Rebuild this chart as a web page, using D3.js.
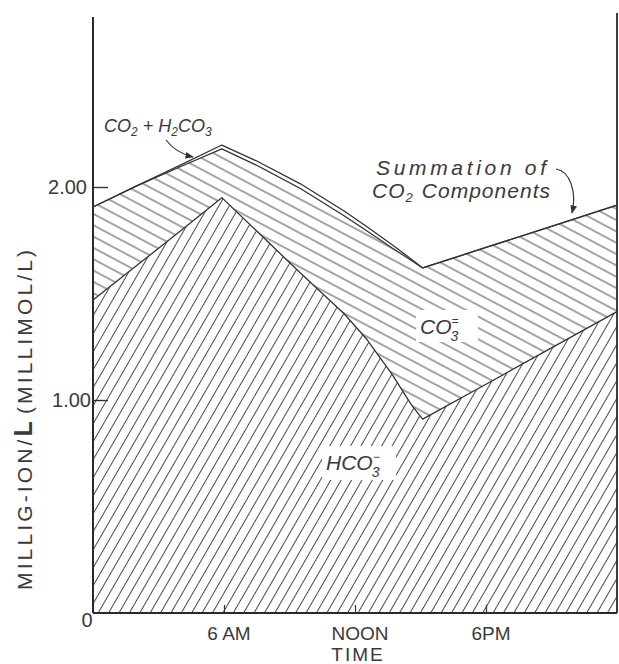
<!DOCTYPE html>
<html>
<head>
<meta charset="utf-8">
<script src="https://cdn.jsdelivr.net/npm/d3@7"></script>
<style>
  body { margin: 0; background: #fff; }
  text { font-family: "Liberation Sans", Arial, sans-serif; fill: #3a3a3a; }
  .hand { font-style: italic; }
</style>
</head>
<body>
<svg id="chart" width="619" height="664"></svg>
<script>
// Diurnal CO2 components (milli-ion / L), sampled over a 24 h day
const hours       = [0, 2, 4, 5.9, 7.5, 9.5, 11.5, 12.5, 13.7, 14.6, 15.1, 18, 21, 24];
const bicarbonate = [1.47, 1.631, 1.793, 1.95, 1.793, 1.596, 1.405, 1.29, 1.12, 0.975, 0.91, 1.074, 1.245, 1.415];
const carbonate   = [0.436, 0.374, 0.302, 0.229, 0.309, 0.397, 0.46, 0.507, 0.594, 0.679, 0.71, 0.642, 0.57, 0.50];
const freeCO2     = [0, 0, 0.008, 0.018, 0.02, 0.022, 0.022, 0.02, 0.015, 0.006, 0, 0, 0, 0];

const yTicks = [1, 2];
const yTickLabels = ["1.00", "2.00"];
const xTicks = [6, 12, 18];
const xTickLabels = ["6 AM", "NOON", "6PM"];

const svg = d3.select("#chart");
const x = d3.scaleLinear().domain([0, 24]).range([93, 617]);
const y = d3.scaleLinear().domain([0, 2]).range([613, 187]);

const rows = hours.map((h, i) => ({ h, hco3: bicarbonate[i], co3: carbonate[i], co2: freeCO2[i] }));
const stacked = d3.stack().keys(["hco3", "co3", "co2"])(rows);

// hatch patterns
const defs = svg.append("defs");
function hatch(id, angle, gap) {
  const p = defs.append("pattern")
    .attr("id", id)
    .attr("patternUnits", "userSpaceOnUse")
    .attr("width", gap).attr("height", gap)
    .attr("patternTransform", `rotate(${angle})`);
  p.append("rect").attr("width", gap).attr("height", gap).attr("fill", "#fff");
  p.append("line")
    .attr("x1", -1).attr("x2", gap + 1)
    .attr("y1", gap / 2).attr("y2", gap / 2)
    .attr("stroke", "#4a4a4a").attr("stroke-width", 1);
}
hatch("hatch-hco3", -60, 9);
hatch("hatch-co3", 28, 10);

const area = d3.area()
  .x(d => x(d.data.h))
  .y0(d => y(d[0]))
  .y1(d => y(d[1]));
const topLine = d3.line()
  .x(d => x(d.data.h))
  .y(d => y(d[1]));

const fills = ["url(#hatch-hco3)", "url(#hatch-co3)", "#fff"];
svg.append("g").selectAll("path.layer")
  .data(stacked)
  .join("path")
  .attr("class", "layer")
  .attr("d", area)
  .attr("fill", (d, i) => fills[i]);

// white gaps in the hatching around the region labels
svg.append("rect").attr("x", 416).attr("y", 310).attr("width", 62).attr("height", 32).attr("fill", "#fff");
svg.append("rect").attr("x", 322).attr("y", 446).attr("width", 74).attr("height", 34).attr("fill", "#fff");

svg.append("g").selectAll("path.edge")
  .data(stacked)
  .join("path")
  .attr("class", "edge")
  .attr("d", topLine)
  .attr("fill", "none")
  .attr("stroke", "#333")
  .attr("stroke-width", 1.3)
  .attr("stroke-linejoin", "round");

// frame: left axis, baseline, right edge
const yTop = y.invert(17);
svg.append("line").attr("x1", x(0)).attr("x2", x(0)).attr("y1", y(yTop)).attr("y2", y(0))
  .attr("stroke", "#2a2a2a").attr("stroke-width", 2);
svg.append("line").attr("x1", x(0)).attr("x2", x(24)).attr("y1", y(0)).attr("y2", y(0))
  .attr("stroke", "#2a2a2a").attr("stroke-width", 1.8);
svg.append("line").attr("x1", x(24)).attr("x2", x(24)).attr("y1", 13).attr("y2", y(0))
  .attr("stroke", "#2a2a2a").attr("stroke-width", 1.8);

// y ticks (inward)
const yAxis = d3.axisRight(y).tickValues(yTicks).tickSize(15).tickFormat("");
svg.append("g").attr("transform", `translate(${x(0)},0)`).call(yAxis)
  .call(g => g.select(".domain").remove())
  .call(g => g.selectAll("line").attr("stroke", "#333").attr("stroke-width", 1.4));
svg.append("g").selectAll("text")
  .data(yTicks)
  .join("text")
  .attr("x", (d, i) => i === 0 ? 91 : 87).attr("y", d => y(d) + 7)
  .attr("text-anchor", "end")
  .attr("font-size", 20)
  .attr("fill", "#555")
  .text((d, i) => yTickLabels[i]);
svg.append("text").attr("x", 87).attr("y", 627).attr("text-anchor", "middle")
  .attr("font-size", 20).attr("fill", "#555").text("0");

// x ticks (inward)
const xAxis = d3.axisTop(x).tickValues(xTicks).tickSize(8).tickFormat("");
svg.append("g").attr("transform", `translate(0,${y(0)})`).call(xAxis)
  .call(g => g.select(".domain").remove())
  .call(g => g.selectAll("line").attr("stroke", "#333").attr("stroke-width", 1.2));
svg.append("g").selectAll("text")
  .data(xTicks)
  .join("text")
  .attr("x", d => x(d) + 5).attr("y", 640)
  .attr("text-anchor", "middle")
  .attr("font-size", 19)
  .attr("fill", "#555")
  .text((d, i) => xTickLabels[i]);

svg.append("text").attr("x", 358).attr("y", 661).attr("text-anchor", "middle")
  .attr("font-size", 19).attr("letter-spacing", 2).attr("fill", "#555").text("TIME");

// y axis title
const yt = svg.append("text")
  .attr("transform", "translate(32,420) rotate(-90)")
  .attr("text-anchor", "middle")
  .attr("font-size", 21)
  .attr("textLength", 340)
  .attr("lengthAdjust", "spacing")
  .attr("fill", "#444");
yt.append("tspan").text("MILLIG-ION/");
yt.append("tspan").attr("font-weight", "bold").attr("font-size", 25).text("L");
yt.append("tspan").attr("dx", 4).text("(MILLIMOL/L)");

// handwritten annotations
const a1 = svg.append("text").attr("class", "hand").attr("x", 104).attr("y", 132).attr("font-size", 18);
a1.append("tspan").text("CO");
a1.append("tspan").attr("font-size", 12).attr("dy", 4).text("2");
a1.append("tspan").attr("dy", -4).text(" + H");
a1.append("tspan").attr("font-size", 12).attr("dy", 4).text("2");
a1.append("tspan").attr("dy", -4).text("CO");
a1.append("tspan").attr("font-size", 12).attr("dy", 4).text("3");

const a2 = svg.append("text").attr("class", "hand").attr("x", 376).attr("y", 175)
  .attr("font-size", 21).attr("textLength", 170).attr("lengthAdjust", "spacing");
a2.append("tspan").text("Summation  of");
const a3 = svg.append("text").attr("class", "hand").attr("x", 372).attr("y", 198)
  .attr("font-size", 21).attr("textLength", 178).attr("lengthAdjust", "spacing");
a3.append("tspan").text("CO");
a3.append("tspan").attr("font-size", 13).attr("dy", 4).text("2");
a3.append("tspan").attr("dy", -4).attr("dx", 8).text("Components");

const c3 = svg.append("text").attr("class", "hand").attr("x", 420).attr("y", 334).attr("font-size", 21);
c3.append("tspan").text("CO");
c3.append("tspan").attr("font-size", 12).attr("dy", -9).text("=");
c3.append("tspan").attr("font-size", 14).attr("dx", -8).attr("dy", 16).text("3");

const h3 = svg.append("text").attr("class", "hand").attr("x", 326).attr("y", 470).attr("font-size", 21);
h3.append("tspan").text("HCO");
h3.append("tspan").attr("font-size", 12).attr("dy", -9).text("−");
h3.append("tspan").attr("font-size", 14).attr("dx", -8).attr("dy", 16).text("3");

// arrows
defs.append("marker").attr("id", "tip").attr("viewBox", "0 0 10 10")
  .attr("refX", 9).attr("refY", 5).attr("markerWidth", 7).attr("markerHeight", 7)
  .attr("orient", "auto")
  .append("path").attr("d", "M0,1 L10,5 L0,9 Z").attr("fill", "#333");
svg.append("path").attr("d", "M166,140 Q176,153 193,157")
  .attr("fill", "none").attr("stroke", "#333").attr("stroke-width", 1.2).attr("marker-end", "url(#tip)");
svg.append("path").attr("d", "M556,169 C570,171 577,192 572,213")
  .attr("fill", "none").attr("stroke", "#333").attr("stroke-width", 1.2).attr("marker-end", "url(#tip)");
</script>
</body>
</html>
